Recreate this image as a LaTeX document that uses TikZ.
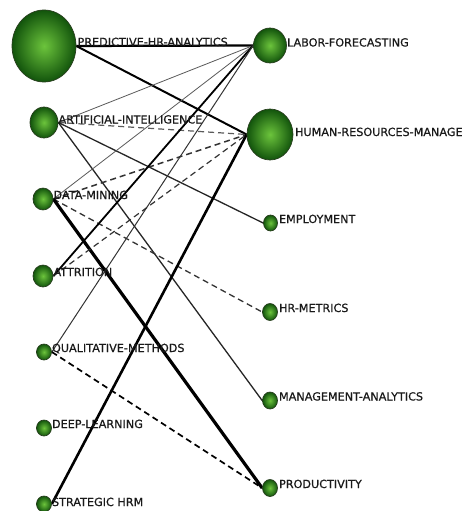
\documentclass[tikz,border=0pt]{standalone}
\usepackage{fontspec}
\setmainfont{DejaVu Sans}
\newfontfamily\lblfont[FakeBold=0.5]{DejaVu Sans}
\usetikzlibrary{shapes.geometric}
\definecolor{ngin}{RGB}{108,196,60}
\definecolor{ngout}{RGB}{18,84,12}
\definecolor{ngdraw}{RGB}{40,62,30}
\definecolor{txt}{RGB}{25,25,25}
\definecolor{thingrey}{RGB}{90,90,90}
\pgfdeclarelayer{bg}
\pgfdeclarelayer{edges}
\pgfsetlayers{bg,edges,main}
\begin{document}
\begin{tikzpicture}[x=1pt,y=-1pt,
  nd/.style={ellipse, inner sep=0pt, shading=radial, inner color=ngin, outer color=ngout, draw=ngdraw, line width=0.7pt},
  lbl/.style={anchor=base west, inner sep=0pt, font=\lblfont\fontsize{11.2}{13}\selectfont, text=txt},
  thinedge/.style={draw=thingrey, line width=0.8pt},
  midedge/.style={draw=black!85, line width=1.3pt},
  thickedge/.style={draw=black, line width=2.2pt},
  dashedge/.style={draw=black!80, line width=1.3pt, dashed, dash pattern=on 6pt off 4pt},
]
\useasboundingbox (0,0) rectangle (462,511);
\begin{pgfonlayer}{bg}
\fill[white] (0,0) rectangle (462,511);
\end{pgfonlayer}

% left column
\node[nd, minimum width=64pt, minimum height=72pt] (pred) at (44,46) {};
\node[nd, minimum width=28pt, minimum height=31pt] (ai) at (44,122.5) {};
\node[nd, minimum width=20pt, minimum height=22pt] (dm) at (43,199) {};
\node[nd, minimum width=20pt, minimum height=22pt] (attr) at (43,276) {};
\node[nd, minimum width=15pt, minimum height=16pt] (qual) at (44,352) {};
\node[nd, minimum width=15pt, minimum height=16pt] (deep) at (44,428) {};
\node[nd, minimum width=15pt, minimum height=16pt] (strat) at (44,504) {};

% right column
\node[nd, minimum width=33pt, minimum height=35pt] (labor) at (270,45.5) {};
\node[nd, minimum width=46pt, minimum height=51pt] (hrm) at (270,134.5) {};
\node[nd, minimum width=14pt, minimum height=16pt] (emp) at (270.5,223) {};
\node[nd, minimum width=15pt, minimum height=17pt] (hrmet) at (270,312) {};
\node[nd, minimum width=15pt, minimum height=17pt] (mgmt) at (270,400.5) {};
\node[nd, minimum width=15pt, minimum height=17pt] (prod) at (270,488) {};

% labels
\node[lbl] (lpred) at ([xshift=1pt]pred.east) {PREDICTIVE-HR-ANALYTICS};
\node[lbl] (lai) at ([xshift=0pt,yshift=-1pt]ai.east) {ARTIFICIAL-INTELLIGENCE};
\node[lbl] (ldm) at ([xshift=0pt,yshift=0pt]dm.east) {DATA-MINING};
\node[lbl] (lattr) at ([xshift=0pt,yshift=0pt]attr.east) {ATTRITION};
\node[lbl] (lqual) at ([xshift=0pt,yshift=0pt]qual.east) {QUALITATIVE-METHODS};
\node[lbl] (ldeep) at ([xshift=0pt,yshift=0pt]deep.east) {DEEP-LEARNING};
\node[lbl] (lstrat) at ([xshift=0pt,yshift=-2pt]strat.east) {STRATEGIC HRM};
\node[lbl] (llabor) at ([xshift=0pt,yshift=-1pt]labor.east) {LABOR-FORECASTING};
\node[lbl] (lhrm) at ([xshift=1.5pt,yshift=-1.5pt]hrm.east) {HUMAN-RESOURCES-MANAGEMENT};
\node[lbl] (lemp) at ([xshift=1pt,yshift=0pt]emp.east) {EMPLOYMENT};
\node[lbl] (lhrmet) at ([xshift=1pt,yshift=0pt]hrmet.east) {HR-METRICS};
\node[lbl] (lmgmt) at ([xshift=1pt,yshift=0pt]mgmt.east) {MANAGEMENT-ANALYTICS};
\node[lbl] (lprod) at ([xshift=1pt,yshift=0pt]prod.east) {PRODUCTIVITY};

% edges
\begin{pgfonlayer}{edges}
\draw[thickedge, line width=2.2pt] (pred.east) -- (labor.west);
\draw[thickedge, line width=2pt] (pred.east) -- (hrm.west);
\draw[thinedge] (ai.east) -- (labor.west);
\draw[dashedge, draw=thingrey, line width=1.2pt] (ai.east) -- (hrm.west);
\draw[midedge] (ai.east) -- (emp.west);
\draw[midedge] (ai.east) -- (mgmt.west);
\draw[thinedge] (dm.east) -- (labor.west);
\draw[dashedge, line width=1.5pt] (dm.east) -- (hrm.west);
\draw[dashedge] (dm.east) -- (hrmet.west);
\draw[thickedge, line width=3.2pt] (dm.east) -- (prod.west);
\draw[thickedge, line width=1.8pt] (attr.east) -- (labor.west);
\draw[dashedge, line width=1.2pt] (attr.east) -- (hrm.west);
\draw[thinedge, draw=black!80, line width=1pt] (qual.east) -- (labor.west);
\draw[dashedge, draw=black, line width=1.7pt] (qual.east) -- (prod.west);
\draw[thickedge, line width=2.6pt] (strat.east) -- (hrm.west);
\end{pgfonlayer}
\end{tikzpicture}
\end{document}
